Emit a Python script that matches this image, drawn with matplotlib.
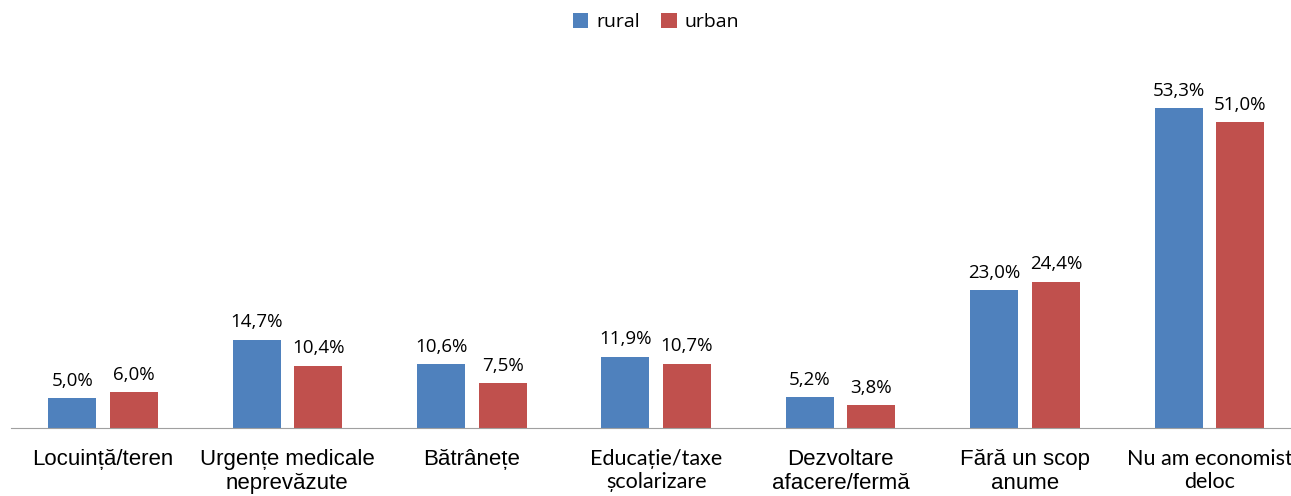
import matplotlib
matplotlib.use('Agg')
import matplotlib.pyplot as plt
import numpy as np

categories = ['Locuință/teren', 'Urgențe medicale\nneprevăzute', 'Bătrânețe',
              'Educație/taxe\nșcolarizare', 'Dezvoltare\nafacere/fermă',
              'Fără un scop\nanume', 'Nu am economist\ndeloc']
narrow_labels = {3, 6}
rural = [5.0, 14.7, 10.6, 11.9, 5.2, 23.0, 53.3]
urban = [6.0, 10.4, 7.5, 10.7, 3.8, 24.4, 51.0]

BLUE = '#4F81BD'
RED = '#C0504D'


def fmt(v):
    return '{:.1f}%'.format(v).replace('.', ',')


fig = plt.figure(figsize=(12.91, 4.96), dpi=100)
ax = fig.add_axes([0.0083, 0.137, 1.0, 0.847])

x = np.arange(len(categories))
width = 0.26
off = 0.167
b1 = ax.bar(x - off, rural, width, color=BLUE, label='rural')
b2 = ax.bar(x + off, urban, width, color=RED, label='urban')

for bars, vals in ((b1, rural), (b2, urban)):
    for b, v in zip(bars, vals):
        ax.annotate(fmt(v), (b.get_x() + b.get_width() / 2, v),
                    xytext=(0, 6), textcoords='offset points',
                    ha='center', va='bottom', fontsize=13.5, family='Open Sans')

ax.set_xlim(-0.5, len(categories) - 0.5)
ax.set_ylim(0, 70)
ax.set_xticks(x)
ax.set_xticklabels(categories, fontsize=16, family='Liberation Sans', linespacing=1.22)
for i, lab in enumerate(ax.get_xticklabels()):
    if i in narrow_labels:
        lab.set_family('Lato')
        lab.set_fontsize(15.5)
ax.tick_params(axis='x', length=0, pad=15)
ax.set_yticks([])
for s in ['top', 'right', 'left']:
    ax.spines[s].set_visible(False)
ax.spines['bottom'].set_color('#A0A0A0')

fig.legend(handles=[b1, b2], loc='center', bbox_to_anchor=(0.508, 0.955), ncol=2,
           frameon=False, handlelength=0.8, handleheight=0.8, handletextpad=0.4,
           columnspacing=1.1, prop={'family': 'Open Sans', 'size': 14})

fig.savefig('out.png', dpi=100)
